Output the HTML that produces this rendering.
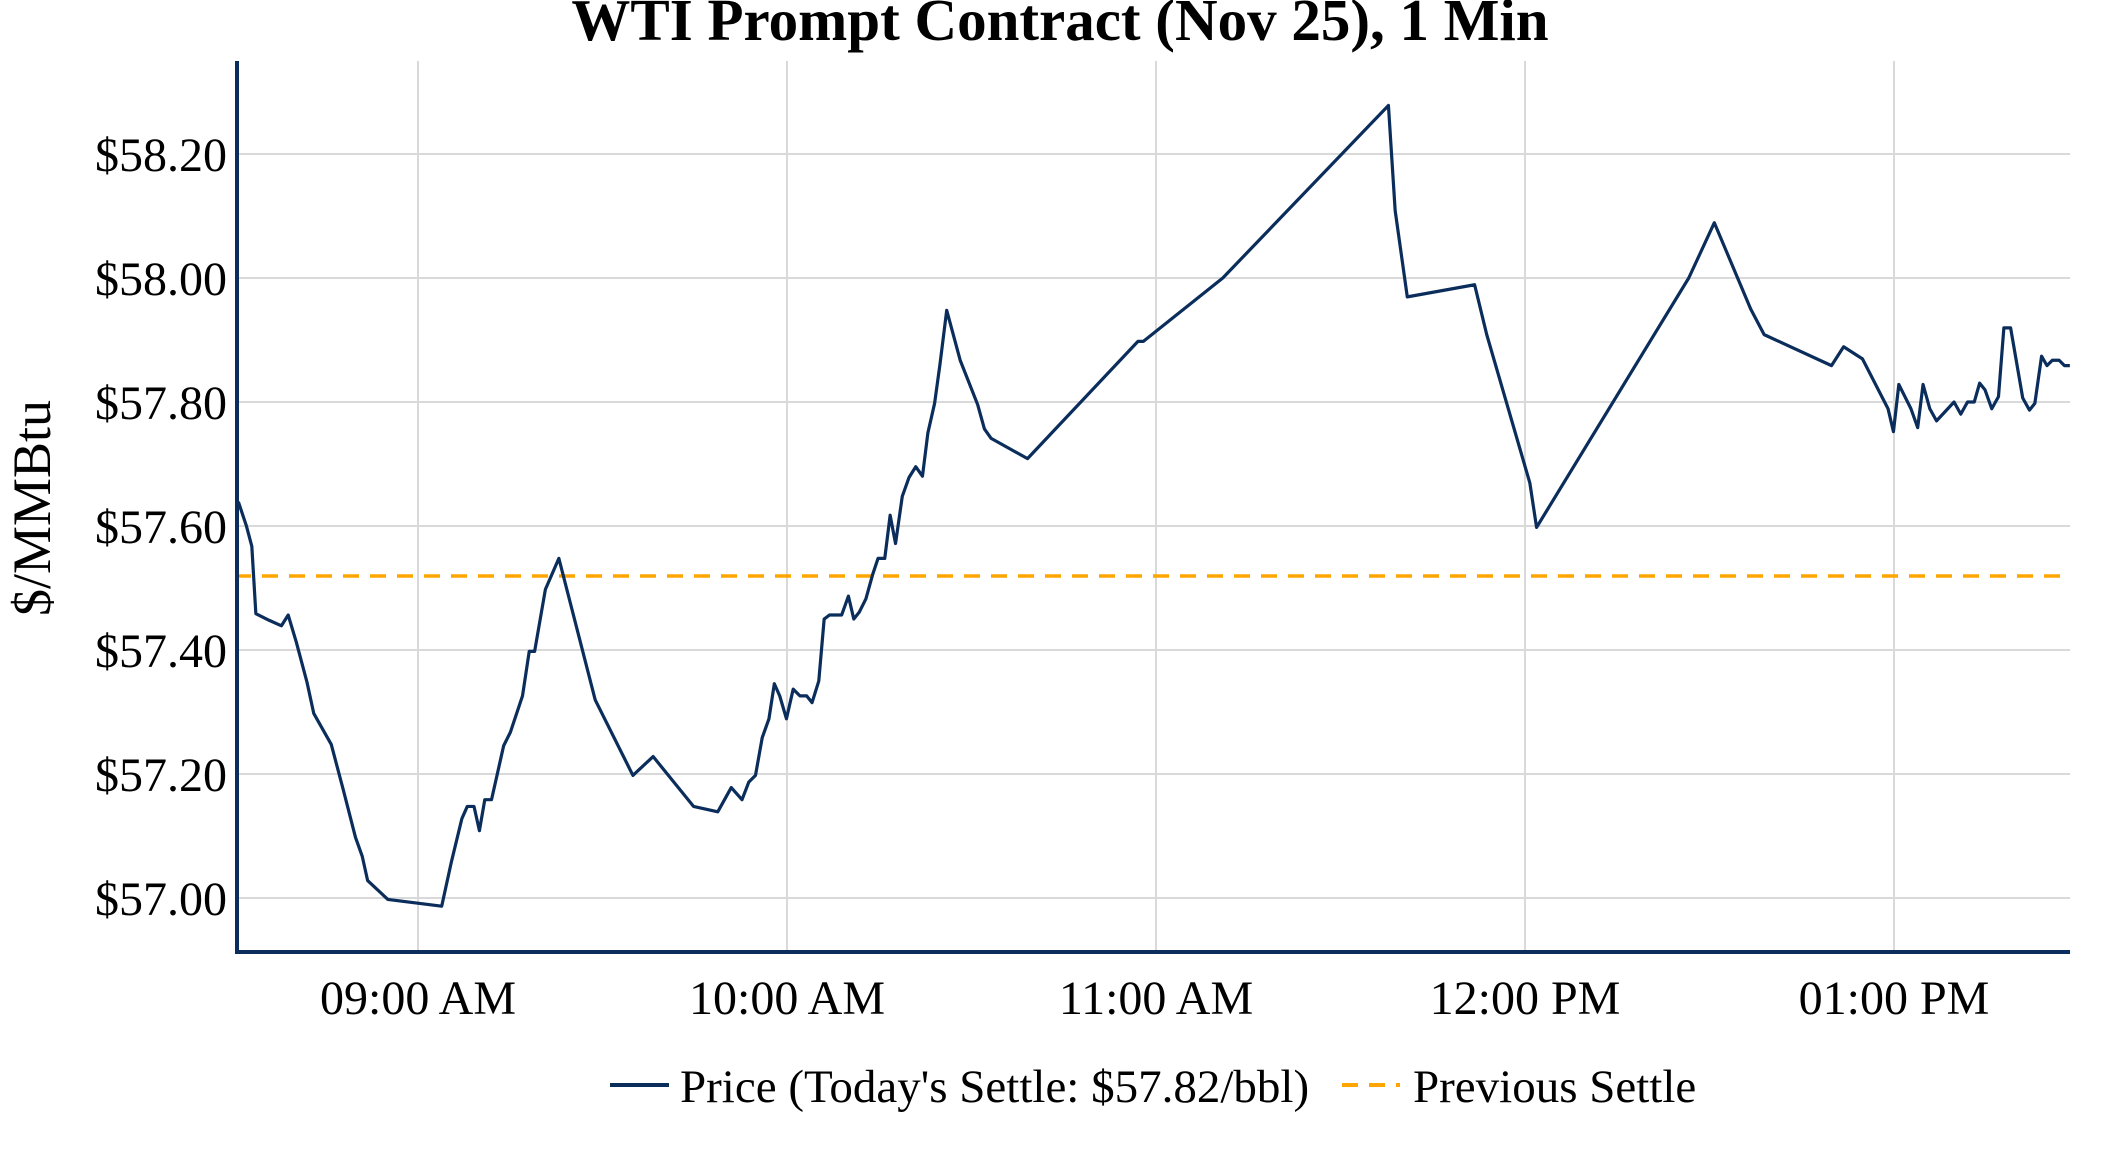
<!DOCTYPE html>
<html><head><meta charset="utf-8"><style>
html,body{margin:0;padding:0;background:#fff;}
svg{display:block;font-family:"Liberation Serif",serif;}
</style></head><body>
<svg width="2112" height="1152" viewBox="0 0 2112 1152" xmlns="http://www.w3.org/2000/svg">
<rect width="2112" height="1152" fill="#fff"/>
<g stroke="#d9d9d9" stroke-width="2">
<line x1="418" y1="61" x2="418" y2="952"/><line x1="787" y1="61" x2="787" y2="952"/><line x1="1156" y1="61" x2="1156" y2="952"/><line x1="1525" y1="61" x2="1525" y2="952"/><line x1="1894" y1="61" x2="1894" y2="952"/>
<line x1="235" y1="154" x2="2070" y2="154"/><line x1="235" y1="278" x2="2070" y2="278"/><line x1="235" y1="402" x2="2070" y2="402"/><line x1="235" y1="526" x2="2070" y2="526"/><line x1="235" y1="650" x2="2070" y2="650"/><line x1="235" y1="774" x2="2070" y2="774"/><line x1="235" y1="898" x2="2070" y2="898"/>
</g>
<line x1="235" y1="576" x2="2070" y2="576" stroke="#ffa500" stroke-width="3.5" stroke-dasharray="16,11"/>
<g transform="translate(237,278) scale(1.3467,1.348) translate(-176,-206)">
<polyline fill="none" stroke="#0b2d5b" stroke-width="3.2" vector-effect="non-scaling-stroke" stroke-linejoin="round" points="177,372 183,390 187,405 190,455 200,460 209,464 214,456 220,476 228,506 233,529 246,552 255,586 264,621 269,635 273,653 288,667 328,672 335,640 343,607 347,598 352,598 356,616 360,593 365,593 374,553 379,543 388,516 393,483 397,483 405,437 415,414 442,519 470,575 485,561 515,598 533,602 543,584 551,593 556,580 561,575 566,547 571,533 575,507 579,516 584,533 589,511 594,516 599,516 603,521 608,505 612,459 616,456 625,456 630,442 634,459 638,454 643,444 648,426 652,414 657,414 661,382 665,403 670,368 675,354 680,346 685,353 689,321 694,299 698,270 703,230 713,267 726,300 731,318 736,325 763,340 845,253 849,253 908,206 1031,78 1036,156 1045,220 1095,211 1104,248 1136,358 1141,391 1254,206 1273,165 1300,229 1310,248 1360,271 1369,257 1383,266 1402,303 1406,320 1410,285 1419,303 1424,317 1428,285 1433,303 1438,312 1451,298 1456,307 1461,298 1466,298 1470,284 1474,289 1479,303 1484,294 1488,243 1493,243 1502,295 1507,304 1511,299 1516,264 1520,271 1524,267 1529,267 1533,271 1537,271"/>
</g>
<line x1="237" y1="61" x2="237" y2="954" stroke="#0b2d5b" stroke-width="4"/>
<line x1="235" y1="952" x2="2070" y2="952" stroke="#0b2d5b" stroke-width="4"/>
<g font-size="48" fill="#000" text-anchor="end">
<text x="227" y="171">$58.20</text><text x="227" y="295">$58.00</text><text x="227" y="419">$57.80</text><text x="227" y="543">$57.60</text><text x="227" y="667">$57.40</text><text x="227" y="791">$57.20</text><text x="227" y="915">$57.00</text>
</g>
<g font-size="48" fill="#000" text-anchor="middle">
<text x="418" y="1014">09:00 AM</text><text x="787" y="1014">10:00 AM</text><text x="1156" y="1014">11:00 AM</text><text x="1525" y="1014">12:00 PM</text><text x="1894" y="1014">01:00 PM</text>
</g>
<text x="1060" y="40" font-size="59" font-weight="bold" text-anchor="middle">WTI Prompt Contract (Nov 25), 1 Min</text>
<text transform="translate(50,508) rotate(-90)" font-size="54" text-anchor="middle">$/MMBtu</text>
<line x1="610" y1="1085" x2="669" y2="1085" stroke="#0b2d5b" stroke-width="4"/>
<text x="680" y="1102" font-size="47">Price (Today's Settle: $57.82/bbl)</text>
<line x1="1342" y1="1085" x2="1400" y2="1085" stroke="#ffa500" stroke-width="4" stroke-dasharray="16,11"/>
<text x="1413" y="1102" font-size="47">Previous Settle</text>
</svg>
</body></html>
